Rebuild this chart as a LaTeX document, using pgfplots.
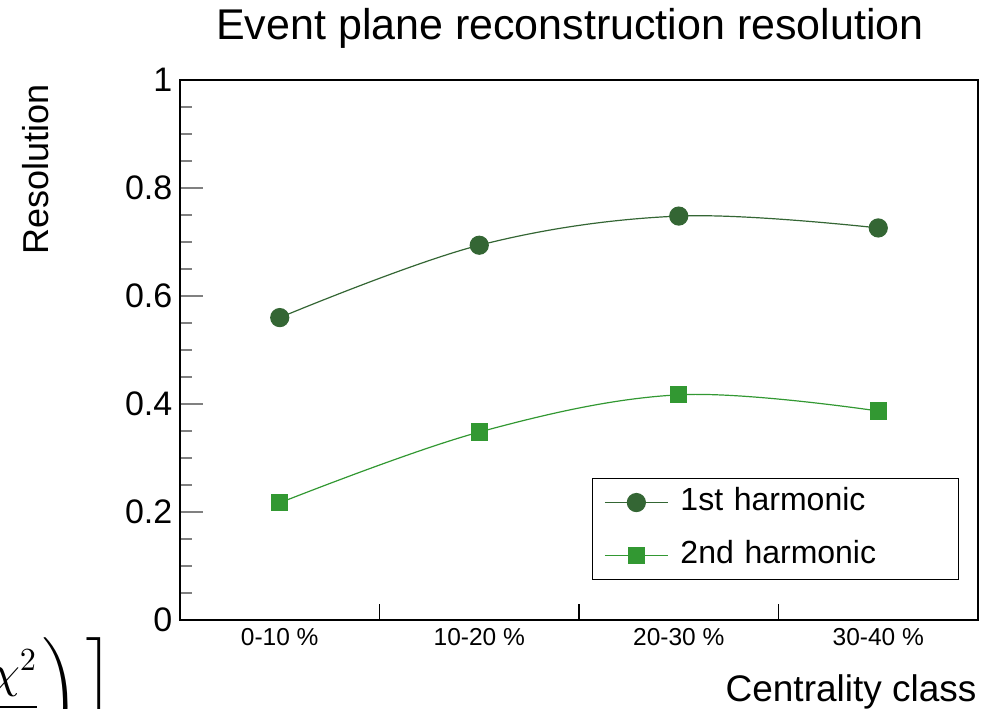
\documentclass[border=0pt]{standalone}
\DeclareFontShape{OML}{cmm}{m}{it}{<->cmmi10}{}
\DeclareFontShape{OMX}{cmex}{m}{n}{<->cmex10}{}
\DeclareFontShape{OMS}{cmsy}{m}{n}{<->cmsy10}{}
\DeclareFontShape{OT1}{cmr}{m}{n}{<->cmr10}{}
\usepackage{pgfplots}
\pgfplotsset{compat=1.18}
\usepackage{fontspec}
\setmainfont{Liberation Sans}
\definecolor{cone}{RGB}{52,102,52}
\definecolor{ctwo}{RGB}{50,152,50}
\begin{document}
\begin{tikzpicture}[x=1pt,y=1pt]
\path[use as bounding box] (0,0) rectangle (993,709);
\begin{axis}[
  at={(180pt,89pt)}, anchor=south west,
  scale only axis, width=798pt, height=540pt,
  line width=1.3pt,
  xmin=-0.5, xmax=3.5, ymin=0, ymax=1,
  tick align=inside, xtick pos=bottom, ytick pos=left,
  xtick={0.5,1.5,2.5}, xticklabels={},
  xtick style={/pgfplots/major tick length=16pt, line width=1.2pt, black},
  extra x ticks={0,1,2,3},
  extra x tick labels={0-10 \%,10-20 \%,20-30 \%,30-40 \%},
  extra x tick style={tick style={draw=none}},
  x tick label style={font=\fontsize{24.5}{29}\selectfont, inner sep=0pt, anchor=north, yshift=-8pt},
  ytick={0,0.2,0.4,0.6,0.8,1},
  minor y tick num=3,
  ytick style={/pgfplots/major tick length=23pt, /pgfplots/minor tick length=12pt, line width=1.1pt},
  yticklabel style={font=\fontsize{34}{40}\selectfont, inner sep=0pt, anchor=east, xshift=-7pt},
  /pgf/number format/assume math mode=true,
  legend cell align=left,
  legend style={at={(0.516,0.074)}, anchor=south west, draw=black, line width=1pt,
    font=\fontsize{32}{38}\selectfont, inner xsep=12pt, inner ysep=5pt, row sep=15pt,
    nodes={inner xsep=12pt, inner ysep=3pt, text height=24pt, text depth=8pt, text width=254pt}},
  legend image code/.code={\draw[mark repeat=2,mark phase=2] plot coordinates {(0pt,0pt) (31.5pt,0pt) (63pt,0pt)};},
]
\addplot[cone, line width=1.2pt, smooth, tension=0.6, mark=*, mark size=9pt, mark options={solid, fill=cone, draw=cone}]
  coordinates {(0,0.560) (1,0.694) (2,0.748) (3,0.726)};
\addlegendentry{1st harmonic}
\addplot[ctwo, line width=1.2pt, smooth, tension=0.6, mark=square*, mark size=8pt, mark options={solid, fill=ctwo, draw=ctwo}]
  coordinates {(0,0.217) (1,0.348) (2,0.417) (3,0.387)};
\addlegendentry{2nd harmonic}
\end{axis}
\node[anchor=base, font=\fontsize{43}{50}\selectfont] at (570,669) {Event plane reconstruction resolution};
\node[anchor=base east, font=\fontsize{37}{44}\selectfont] at (980,7.3) {Centrality class};
\node[anchor=base east, rotate=90, font=\fontsize{36}{43}\selectfont] at (48,628) {Resolution};
\node[anchor=east, inner sep=0pt, font=\fontsize{46}{55}\selectfont] at (114,2)
  {$\displaystyle\frac{\chi^{2}}{2}\mkern2mu\mathclose{\vcenter{\hbox{$\mathchar"0321$}}}\mkern3mu\mathclose{\vcenter{\hbox{$\mathchar"0323$}}}$};
\end{tikzpicture}
\end{document}
